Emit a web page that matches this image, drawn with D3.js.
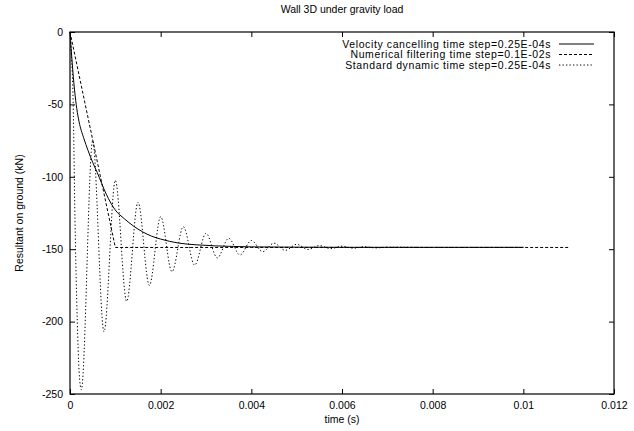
<!DOCTYPE html>
<html>
<head>
<meta charset="utf-8">
<script src="https://cdn.jsdelivr.net/npm/d3@7"></script>
<style>
  body { margin: 0; background: #fff; }
  svg { font-family: "Liberation Sans", Arial, Helvetica, sans-serif; }
</style>
</head>
<body>
<div id="chart"></div>
<script>

// tick labels
var xTicks = [0, 0.002, 0.004, 0.006, 0.008, 0.01, 0.012];
var yTicks = [0, -50, -100, -150, -200, -250];

// Velocity cancelling, time step 0.25E-04s
var velTime  = [0, 0.00005, 0.0001, 0.00015, 0.0002, 0.0003, 0.0004, 0.0005, 0.0006, 0.0008, 0.001,
                0.0012, 0.0014, 0.0016, 0.0018, 0.002, 0.0024, 0.0028, 0.0032, 0.0036, 0.004,
                0.005, 0.006, 0.007, 0.008, 0.009, 0.01];
var velForce = [0, -22, -40, -53, -62, -73, -82, -90, -97, -112, -123,
                -129, -134, -138, -141, -143, -145.8, -147, -147.7, -148.1, -148.4,
                -148.6, -148.7, -148.7, -148.7, -148.7, -148.7];

// Numerical filtering, time step 0.1E-02s
var filtTime  = [0, 0.001, 0.002, 0.003, 0.004, 0.005, 0.006, 0.007, 0.008, 0.009, 0.01, 0.011];
var filtForce = [0, -148.8, -148.8, -148.8, -148.8, -148.8, -148.8, -148.8, -148.8, -148.8, -148.8, -148.8];

// Standard dynamic, time step 0.25E-04s
var stdTime  = [0, 0.00003, 0.00007, 0.00011, 0.00016, 0.0002, 0.00025,
                0.0005, 0.00075, 0.001, 0.00125, 0.0015, 0.00175, 0.002, 0.00225,
                0.0025, 0.00275, 0.003, 0.00325, 0.0035, 0.00375, 0.004, 0.00425,
                0.0045, 0.00475, 0.005, 0.00525, 0.0055, 0.00575, 0.006, 0.00625,
                0.0065, 0.00675, 0.007, 0.008, 0.009, 0.01];
var stdForce = [0, -15, -49, -130, -199, -234, -247,
                -75, -207, -102.5, -186, -117.5, -175, -127.5, -165.5,
                -134.5, -161, -139, -156, -142.5, -154, -144, -151.7,
                -145.8, -150.8, -146.6, -150.2, -147.5, -149.6, -147.9, -149.3,
                -148.3, -149.1, -148.6, -148.8, -148.8, -148.8];

var series = [
  { name: 'Velocity cancelling time step=0.25E-04s', t: velTime, v: velForce, dash: null },
  { name: 'Numerical filtering time step=0.1E-02s', t: filtTime, v: filtForce, dash: '3,2' },
  { name: 'Standard dynamic time step=0.25E-04s', t: stdTime, v: stdForce, dash: '1.3,2.2' }
];

var width = 634, height = 431;
var margin = { top: 32, right: 20, bottom: 37, left: 70 };
var plotW = width - margin.left - margin.right;
var plotH = height - margin.top - margin.bottom;

var svg = d3.select('#chart').append('svg')
  .attr('width', width)
  .attr('height', height);

var g = svg.append('g')
  .attr('transform', 'translate(' + margin.left + ',' + margin.top + ')');

var x = d3.scaleLinear().domain([0, 0.012]).range([0, plotW]);
var y = d3.scaleLinear().domain([-250, 0]).range([plotH, 0]);

// plain hyphen minus, like gnuplot
var fmt = function (d) { return String(+d.toFixed(3)); };

// axes, ticks pointing inwards like gnuplot
function styleAxis(sel) {
  sel.select('.domain').remove();
  sel.selectAll('line').attr('stroke', '#000');
  sel.selectAll('text').attr('fill', '#000').style('font-size', '10.5px');
}

g.append('g')
  .attr('transform', 'translate(0,' + plotH + ')')
  .call(d3.axisBottom(x).tickValues(xTicks).tickSizeInner(-5).tickSizeOuter(0).tickPadding(8).tickFormat(fmt))
  .call(styleAxis);

g.append('g')
  .call(d3.axisTop(x).tickValues(xTicks).tickSizeInner(-5).tickSizeOuter(0).tickFormat(''))
  .call(styleAxis);

g.append('g')
  .call(d3.axisLeft(y).tickValues(yTicks).tickSizeInner(-5).tickSizeOuter(0).tickPadding(7).tickFormat(fmt))
  .call(styleAxis);

g.append('g')
  .attr('transform', 'translate(' + plotW + ',0)')
  .call(d3.axisRight(y).tickValues(yTicks).tickSizeInner(-5).tickSizeOuter(0).tickFormat(''))
  .call(styleAxis);

g.append('rect')
  .attr('width', plotW)
  .attr('height', plotH)
  .attr('fill', 'none')
  .attr('stroke', '#000')
  .attr('stroke-width', 1.2);

// curves
var line = d3.line()
  .x(function (d) { return x(d[0]); })
  .y(function (d) { return y(d[1]); });

series.forEach(function (s, i) {
  var pts = s.t.map(function (t, j) { return [t, s.v[j]]; });
  line.curve(i === 1 ? d3.curveLinear : d3.curveMonotoneX);
  g.append('path')
    .attr('fill', 'none')
    .attr('stroke', '#000')
    .attr('stroke-width', 1)
    .attr('stroke-dasharray', s.dash)
    .attr('d', line(pts));
});

// legend (gnuplot key: wide text, tight rows)
var legend = g.append('g').attr('transform', 'translate(' + (plotW - 63) + ',12)');
series.forEach(function (s, i) {
  var row = legend.append('g').attr('transform', 'translate(0,' + (i * 10.5) + ')');
  row.append('text')
    .attr('text-anchor', 'end')
    .attr('dy', '0.35em')
    .style('font-size', '10.5px')
    .style('letter-spacing', '0.6px')
    .text(s.name);
  row.append('line')
    .attr('x1', 8).attr('x2', 43)
    .attr('stroke', '#000')
    .attr('stroke-width', 1)
    .attr('stroke-dasharray', s.dash);
});

// title and axis labels
svg.append('text')
  .attr('x', margin.left + plotW / 2)
  .attr('y', 13)
  .attr('text-anchor', 'middle')
  .style('font-size', '10.5px')
  .text('Wall 3D under gravity load');

svg.append('text')
  .attr('x', margin.left + plotW / 2)
  .attr('y', 423)
  .attr('text-anchor', 'middle')
  .style('font-size', '10.5px')
  .text('time (s)');

svg.append('text')
  .attr('transform', 'translate(23,' + (margin.top + plotH / 2) + ') rotate(-90)')
  .attr('text-anchor', 'middle')
  .style('font-size', '10.5px')
  .text('Resultant on ground (kN)');

</script>
</body>
</html>
